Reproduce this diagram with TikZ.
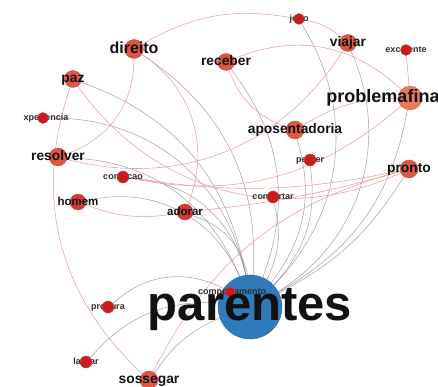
\documentclass[tikz,border=0pt]{standalone}
\usepackage{fontspec}
\setmainfont{Liberation Sans}
\pgfdeclarelayer{back}
\pgfdeclarelayer{front}
\pgfsetlayers{back,main,front}
\definecolor{edgered}{RGB}{236,160,155}
\definecolor{edgegray}{RGB}{128,114,138}
\definecolor{nodebig}{RGB}{222,86,70}
\definecolor{nodemid}{RGB}{214,56,50}
\definecolor{nodesmall}{RGB}{200,28,32}
\definecolor{nodeorange}{RGB}{232,124,94}
\definecolor{nodeblue}{RGB}{46,122,186}
\definecolor{inkbig}{RGB}{17,17,17}
\definecolor{inksmall}{RGB}{45,45,45}
\begin{document}
\begin{tikzpicture}[x=1pt,y=-1pt,
  ed/.style={line width=0.55pt},
  rd/.style={ed, draw=edgered},
  gy/.style={ed, draw=edgegray, draw opacity=0.65},
  dot/.style={circle, inner sep=0pt, minimum size=#1, fill=nodebig, draw=nodebig!85!black, line width=0.3pt},
  lab/.style={anchor=base, inner sep=0pt, text=inkbig, font=\bfseries\fontsize{#1}{#1}\selectfont},
  slab/.style={anchor=base, inner sep=0pt, text=inksmall, font=\bfseries\fontsize{9}{9}\selectfont}]
\useasboundingbox (0,0) rectangle (438,387);
\clip (0,0) rectangle (438,387);
\begin{pgfonlayer}{back}
\fill[white] (0,0) rectangle (438,387);
\end{pgfonlayer}

% hub circle
\node[dot=64pt, fill=nodeblue, draw=nodeblue!85!black] (parentes) at (250,307) {};

% small labels sit beneath their own dots
\node[slab] (l-jogo) at (299,21.3) {jogo};
\node[slab] (l-excelente) at (406,52.3) {excelente};
\node[slab] (l-xperiencia) at (46,120.3) {xperiencia};
\node[slab] (l-condicao) at (123,179.3) {condicao};
\node[slab] (l-perder) at (310,162.3) {perder};
\node[slab] (l-consertar) at (273,199.3) {consertar};
\node[slab] (l-comportamento) at (232,294.3) {comportamento};
\node[slab] (l-procura) at (108,309.3) {procura};
\node[slab] (l-largar) at (86,364.3) {largar};

% word circles
\node[dot=24pt, fill=nodeorange, draw=nodeorange!85!black] (problema) at (410,98) {};
\node[dot=19pt] (direito) at (134,49) {};
\node[dot=17pt] (receber) at (226,62) {};
\node[dot=17pt] (paz) at (73,79) {};
\node[dot=11pt, fill=nodesmall] (jogo) at (299,19) {};
\node[dot=17pt] (viajar) at (348,43) {};
\node[dot=11pt, fill=nodesmall] (excelente) at (406,50) {};
\node[dot=18pt] (aposentadoria) at (295,130) {};
\node[dot=11pt, fill=nodesmall] (xperiencia) at (43,118) {};
\node[dot=18pt] (resolver) at (58,157) {};
\node[dot=12pt, fill=nodesmall] (condicao) at (123,177) {};
\node[dot=12pt, fill=nodesmall] (perder) at (310,160) {};
\node[dot=18pt] (pronto) at (409,169) {};
\node[dot=16pt, fill=nodemid] (homem) at (78,202) {};
\node[dot=16pt, fill=nodemid] (adorar) at (185,212) {};
\node[dot=12pt, fill=nodesmall] (consertar) at (273,197) {};
\node[dot=10pt, fill=nodesmall!80!red] (comportamento) at (230,292) {};
\node[dot=12pt, fill=nodesmall] (procura) at (108,307) {};
\node[dot=12pt, fill=nodesmall] (largar) at (86,362) {};
\node[dot=18pt] (sossegar) at (149,380) {};

% connectors beneath everything
\begin{pgfonlayer}{back}
\foreach \s/\b in {direito/30, paz/30, xperiencia/40, resolver/33, condicao/37,
  homem/40, adorar/30, receber/29, aposentadoria/27, jogo/38, viajar/41,
  perder/25, consertar/20, problema/25, pronto/15, sossegar/16, largar/26,
  procura/35, comportamento/20}
  \draw[gy] (\s) to[bend left=\b] (parentes);
\draw[rd] (direito) to[bend left=20] (jogo);
\draw[rd] (jogo) to[bend left=15] (viajar);
\draw[rd] (receber) to[bend left=33] (problema);
\draw[rd] (excelente) -- (problema);
\draw[rd] (aposentadoria) to[bend left=15] (problema);
\draw[rd] (receber) to[bend right=25] (aposentadoria);
\draw[rd] (viajar) to[bend left=36] (resolver);
\draw[rd] (direito) to[bend left=35] (resolver);
\draw[rd] (direito) to[bend left=39] (adorar);
\draw[rd] (paz) to[bend right=33] (sossegar);
\draw[rd] (paz) to[bend right=40] (pronto);
\draw[rd] (condicao) to[bend right=10] (pronto);
\draw[rd] (homem) to[bend right=15] (adorar);
\draw[rd] (adorar) to[bend right=5] (pronto);
\draw[rd] (sossegar) to[bend left=24] (pronto);
\draw[rd] (problema) to[bend left=26] (condicao);
\end{pgfonlayer}

% large labels on top
\begin{pgfonlayer}{front}
\node[lab=49] (l-parentes) at (250,320) {parentes};
\node[lab=18] (l-problema) at (410,102.7) {problemafinanceiro};
\node[lab=16] (l-direito) at (134,53.2) {direito};
\node[lab=13.8] (l-receber) at (226,65.6) {receber};
\node[lab=13.8] (l-paz) at (73,82.6) {paz};
\node[lab=13.8] (l-viajar) at (348,46.6) {viajar};
\node[lab=13.8] (l-aposentadoria) at (295,133.6) {aposentadoria};
\node[lab=13.8] (l-resolver) at (58,160.6) {resolver};
\node[lab=13.8] (l-pronto) at (409,172.6) {pronto};
\node[lab=13.8] (l-sossegar) at (149,383.6) {sossegar};
\node[lab=11.5] (l-homem) at (78,205) {homem};
\node[lab=11.5] (l-adorar) at (185,215) {adorar};
\end{pgfonlayer}
\end{tikzpicture}
\end{document}
